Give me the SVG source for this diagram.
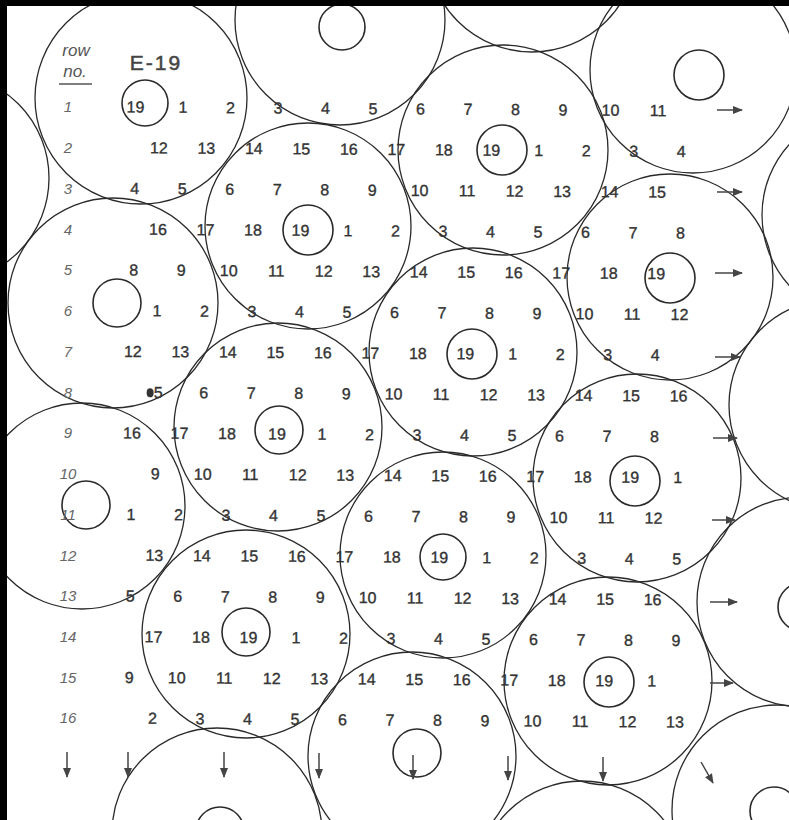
<svg xmlns="http://www.w3.org/2000/svg" width="789" height="820" viewBox="0 0 789 820">
<defs>
<style>
.c{fill:none;stroke:#2a2a2a;stroke-width:1.3}
.h{fill:none;stroke:#2a2a2a;stroke-width:1.6}
.n{font-family:"Liberation Sans",Arial,sans-serif;font-size:16px;fill:#333;stroke:#333;stroke-width:0.35;text-anchor:middle}
.r{font-family:"Liberation Sans",Arial,sans-serif;font-style:italic;font-size:15px;fill:#666;text-anchor:middle}
.a{stroke:#444;stroke-width:1.5;fill:none;marker-end:url(#ah)}
</style>
<marker id="ah" viewBox="0 0 10 8" refX="9" refY="4" markerWidth="10" markerHeight="8" markerUnits="userSpaceOnUse" orient="auto"><path d="M0,0 L10,4 L0,8 z" fill="#444"/></marker>
</defs>
<rect width="789" height="820" fill="#fff"/>

<g id="disks">
<g id="disk-TL"><circle class="c" cx="-56" cy="178" r="105"/></g>
<g id="disk-A"><circle class="c" cx="141" cy="98" r="106"/><circle class="h" cx="145" cy="103" r="23"/></g>
<g id="disk-T1"><circle class="c" cx="340" cy="20" r="105"/><circle class="h" cx="342" cy="27" r="23"/></g>
<g id="disk-T2"><circle class="c" cx="532" cy="-53" r="105"/></g>
<g id="disk-TR"><circle class="c" cx="693" cy="70" r="103"/><circle class="h" cx="699" cy="75" r="25"/></g>
<g id="disk-R1"><circle class="c" cx="867" cy="215" r="105"/></g>
<g id="disk-B"><circle class="c" cx="503" cy="150" r="105"/><circle class="h" cx="502" cy="150" r="25"/></g>
<g id="disk-C"><circle class="c" cx="308" cy="226" r="103"/><circle class="h" cx="308" cy="230" r="25"/></g>
<g id="disk-L1"><circle class="c" cx="113" cy="303" r="105"/><circle class="h" cx="117" cy="303" r="24"/></g>
<g id="disk-D"><circle class="c" cx="670" cy="277" r="103"/><circle class="h" cx="670" cy="278" r="25"/></g>
<g id="disk-E"><circle class="c" cx="473" cy="352" r="104"/><circle class="h" cx="472" cy="354" r="25"/></g>
<g id="disk-R2"><circle class="c" cx="835" cy="405" r="106"/></g>
<g id="disk-F"><circle class="c" cx="278" cy="427" r="104"/><circle class="h" cx="279" cy="430" r="24"/></g>
<g id="disk-L2"><circle class="c" cx="82" cy="506" r="103"/><circle class="h" cx="86" cy="505" r="24"/></g>
<g id="disk-G"><circle class="c" cx="637" cy="478" r="104"/><circle class="h" cx="635" cy="481" r="25"/></g>
<g id="disk-H"><circle class="c" cx="443" cy="555" r="103"/><circle class="h" cx="443" cy="557" r="23"/></g>
<g id="disk-R3"><circle class="c" cx="802" cy="602" r="105"/><circle class="h" cx="802" cy="607" r="24"/></g>
<g id="disk-I"><circle class="c" cx="246" cy="634" r="104"/><circle class="h" cx="246" cy="632" r="24"/></g>
<g id="disk-J"><circle class="c" cx="608" cy="681" r="104"/><circle class="h" cx="609" cy="682" r="25"/></g>
<g id="disk-B2"><circle class="c" cx="412" cy="756" r="104"/><circle class="h" cx="417" cy="753" r="24"/></g>
<g id="disk-B1"><circle class="c" cx="217" cy="833" r="105"/><circle class="h" cx="220" cy="831" r="24"/></g>
<g id="disk-B3"><circle class="c" cx="582" cy="886" r="105"/></g>
<g id="disk-R4"><circle class="c" cx="777" cy="810" r="105"/><circle class="h" cx="774" cy="811" r="24"/></g>
</g>

<g id="header">
<text x="76" y="56" font-family="Liberation Sans, Arial, sans-serif" font-style="italic" font-size="17" fill="#555" text-anchor="middle">row</text>
<text x="75" y="77" font-family="Liberation Sans, Arial, sans-serif" font-style="italic" font-size="17" fill="#555" text-anchor="middle">no.</text>
<line x1="59" y1="84" x2="92" y2="84" stroke="#555" stroke-width="1.5"/>
<text x="156" y="70" font-family="Liberation Sans, Arial, sans-serif" font-size="21" fill="#444" stroke="#444" stroke-width="0.5" text-anchor="middle" letter-spacing="2">E-19</text>
</g>

<g id="row-labels">
<text class="r" x="68" y="112">1</text>
<text class="r" x="68" y="153">2</text>
<text class="r" x="68" y="194">3</text>
<text class="r" x="68" y="235">4</text>
<text class="r" x="68" y="275">5</text>
<text class="r" x="68" y="316">6</text>
<text class="r" x="68" y="357">7</text>
<text class="r" x="68" y="398">8</text>
<text class="r" x="68" y="438">9</text>
<text class="r" x="68" y="479">10</text>
<text class="r" x="68" y="520">11</text>
<text class="r" x="68" y="561">12</text>
<text class="r" x="68" y="601">13</text>
<text class="r" x="68" y="642">14</text>
<text class="r" x="68" y="683">15</text>
<text class="r" x="68" y="723">16</text>
</g>

<g id="numbers">
<g transform="translate(135.5,112.5) rotate(0.4)"><text class="n" x="0">19</text><text class="n" x="47.5">1</text><text class="n" x="95">2</text><text class="n" x="142.5">3</text><text class="n" x="190">4</text><text class="n" x="237.5">5</text><text class="n" x="285">6</text><text class="n" x="332.5">7</text><text class="n" x="380">8</text><text class="n" x="427.5">9</text><text class="n" x="475">10</text><text class="n" x="522.5">11</text></g>
<g transform="translate(158.8,153.4) rotate(0.4)"><text class="n" x="0">12</text><text class="n" x="47.5">13</text><text class="n" x="95">14</text><text class="n" x="142.5">15</text><text class="n" x="190">16</text><text class="n" x="237.5">17</text><text class="n" x="285">18</text><text class="n" x="332.5">19</text><text class="n" x="380">1</text><text class="n" x="427.5">2</text><text class="n" x="475">3</text><text class="n" x="522.5">4</text></g>
<g transform="translate(134.6,194) rotate(0.4)"><text class="n" x="0">4</text><text class="n" x="47.5">5</text><text class="n" x="95">6</text><text class="n" x="142.5">7</text><text class="n" x="190">8</text><text class="n" x="237.5">9</text><text class="n" x="285">10</text><text class="n" x="332.5">11</text><text class="n" x="380">12</text><text class="n" x="427.5">13</text><text class="n" x="475">14</text><text class="n" x="522.5">15</text></g>
<g transform="translate(157.9,234.9) rotate(0.4)"><text class="n" x="0">16</text><text class="n" x="47.5">17</text><text class="n" x="95">18</text><text class="n" x="142.5">19</text><text class="n" x="190">1</text><text class="n" x="237.5">2</text><text class="n" x="285">3</text><text class="n" x="332.5">4</text><text class="n" x="380">5</text><text class="n" x="427.5">6</text><text class="n" x="475">7</text><text class="n" x="522.5">8</text></g>
<g transform="translate(133.7,275.5) rotate(0.4)"><text class="n" x="0">8</text><text class="n" x="47.5">9</text><text class="n" x="95">10</text><text class="n" x="142.5">11</text><text class="n" x="190">12</text><text class="n" x="237.5">13</text><text class="n" x="285">14</text><text class="n" x="332.5">15</text><text class="n" x="380">16</text><text class="n" x="427.5">17</text><text class="n" x="475">18</text><text class="n" x="522.5">19</text></g>
<g transform="translate(157,316.4) rotate(0.4)"><text class="n" x="0">1</text><text class="n" x="47.5">2</text><text class="n" x="95">3</text><text class="n" x="142.5">4</text><text class="n" x="190">5</text><text class="n" x="237.5">6</text><text class="n" x="285">7</text><text class="n" x="332.5">8</text><text class="n" x="380">9</text><text class="n" x="427.5">10</text><text class="n" x="475">11</text><text class="n" x="522.5">12</text></g>
<g transform="translate(132.8,357) rotate(0.4)"><text class="n" x="0">12</text><text class="n" x="47.5">13</text><text class="n" x="95">14</text><text class="n" x="142.5">15</text><text class="n" x="190">16</text><text class="n" x="237.5">17</text><text class="n" x="285">18</text><text class="n" x="332.5">19</text><text class="n" x="380">1</text><text class="n" x="427.5">2</text><text class="n" x="475">3</text><text class="n" x="522.5">4</text></g>
<g transform="translate(156.1,397.9) rotate(0.4)"><ellipse cx="-6" cy="-5" rx="3.5" ry="4.5" fill="#333"/><text class="n" x="2">5</text><text class="n" x="47.5">6</text><text class="n" x="95">7</text><text class="n" x="142.5">8</text><text class="n" x="190">9</text><text class="n" x="237.5">10</text><text class="n" x="285">11</text><text class="n" x="332.5">12</text><text class="n" x="380">13</text><text class="n" x="427.5">14</text><text class="n" x="475">15</text><text class="n" x="522.5">16</text></g>
<g transform="translate(131.9,438.5) rotate(0.4)"><text class="n" x="0">16</text><text class="n" x="47.5">17</text><text class="n" x="95">18</text><text class="n" x="145">19</text><text class="n" x="190">1</text><text class="n" x="237.5">2</text><text class="n" x="285">3</text><text class="n" x="332.5">4</text><text class="n" x="380">5</text><text class="n" x="427.5">6</text><text class="n" x="475">7</text><text class="n" x="522.5">8</text></g>
<g transform="translate(155.2,479.4) rotate(0.4)"><text class="n" x="0">9</text><text class="n" x="47.5">10</text><text class="n" x="95">11</text><text class="n" x="142.5">12</text><text class="n" x="190">13</text><text class="n" x="237.5">14</text><text class="n" x="285">15</text><text class="n" x="332.5">16</text><text class="n" x="380">17</text><text class="n" x="427.5">18</text><text class="n" x="475">19</text><text class="n" x="522.5">1</text></g>
<g transform="translate(131,520) rotate(0.4)"><text class="n" x="0">1</text><text class="n" x="47.5">2</text><text class="n" x="95">3</text><text class="n" x="142.5">4</text><text class="n" x="190">5</text><text class="n" x="237.5">6</text><text class="n" x="285">7</text><text class="n" x="332.5">8</text><text class="n" x="380">9</text><text class="n" x="427.5">10</text><text class="n" x="475">11</text><text class="n" x="522.5">12</text></g>
<g transform="translate(154.3,560.9) rotate(0.4)"><text class="n" x="0">13</text><text class="n" x="47.5">14</text><text class="n" x="95">15</text><text class="n" x="142.5">16</text><text class="n" x="190">17</text><text class="n" x="237.5">18</text><text class="n" x="285">19</text><text class="n" x="332.5">1</text><text class="n" x="380">2</text><text class="n" x="427.5">3</text><text class="n" x="475">4</text><text class="n" x="522.5">5</text></g>
<g transform="translate(130.1,601.5) rotate(0.4)"><text class="n" x="0">5</text><text class="n" x="47.5">6</text><text class="n" x="95">7</text><text class="n" x="142.5">8</text><text class="n" x="190">9</text><text class="n" x="237.5">10</text><text class="n" x="285">11</text><text class="n" x="332.5">12</text><text class="n" x="380">13</text><text class="n" x="427.5">14</text><text class="n" x="475">15</text><text class="n" x="522.5">16</text></g>
<g transform="translate(153.4,642.4) rotate(0.4)"><text class="n" x="0">17</text><text class="n" x="47.5">18</text><text class="n" x="95">19</text><text class="n" x="142.5">1</text><text class="n" x="190">2</text><text class="n" x="237.5">3</text><text class="n" x="285">4</text><text class="n" x="332.5">5</text><text class="n" x="380">6</text><text class="n" x="427.5">7</text><text class="n" x="475">8</text><text class="n" x="522.5">9</text></g>
<g transform="translate(129.2,683) rotate(0.4)"><text class="n" x="0">9</text><text class="n" x="47.5">10</text><text class="n" x="95">11</text><text class="n" x="142.5">12</text><text class="n" x="190">13</text><text class="n" x="237.5">14</text><text class="n" x="285">15</text><text class="n" x="332.5">16</text><text class="n" x="380">17</text><text class="n" x="427.5">18</text><text class="n" x="475">19</text><text class="n" x="522.5">1</text></g>
<g transform="translate(152.5,723.9) rotate(0.4)"><text class="n" x="0">2</text><text class="n" x="47.5">3</text><text class="n" x="95">4</text><text class="n" x="142.5">5</text><text class="n" x="190">6</text><text class="n" x="237.5">7</text><text class="n" x="285">8</text><text class="n" x="332.5">9</text><text class="n" x="380">10</text><text class="n" x="427.5">11</text><text class="n" x="475">12</text><text class="n" x="522.5">13</text></g>
</g>

<g id="connectors">
<line class="a" x1="717" y1="110" x2="742" y2="110"/>
<line class="a" x1="717" y1="192" x2="742" y2="192"/>
<line class="a" x1="715" y1="273" x2="742" y2="273"/>
<line class="a" x1="715" y1="357" x2="740" y2="357"/>
<line class="a" x1="713" y1="438" x2="737" y2="438"/>
<line class="a" x1="712" y1="520" x2="735" y2="520"/>
<line class="a" x1="710" y1="602" x2="737" y2="602"/>
<line class="a" x1="710" y1="683" x2="733" y2="683"/>
<line class="a" x1="67" y1="752" x2="67" y2="777"/>
<line class="a" x1="128" y1="752" x2="128" y2="777"/>
<line class="a" x1="224" y1="752" x2="224" y2="777"/>
<line class="a" x1="319" y1="753" x2="319" y2="778"/>
<line class="a" x1="413" y1="755" x2="413" y2="779"/>
<line class="a" x1="508" y1="756" x2="508" y2="780"/>
<line class="a" x1="603" y1="757" x2="603" y2="781"/>
<line class="a" x1="701" y1="762" x2="713" y2="783"/>
</g>

<g id="frame">
<rect x="0" y="0" width="7" height="820" fill="#000"/>
<rect x="0" y="0" width="789" height="6" fill="#000"/>
</g>
</svg>
